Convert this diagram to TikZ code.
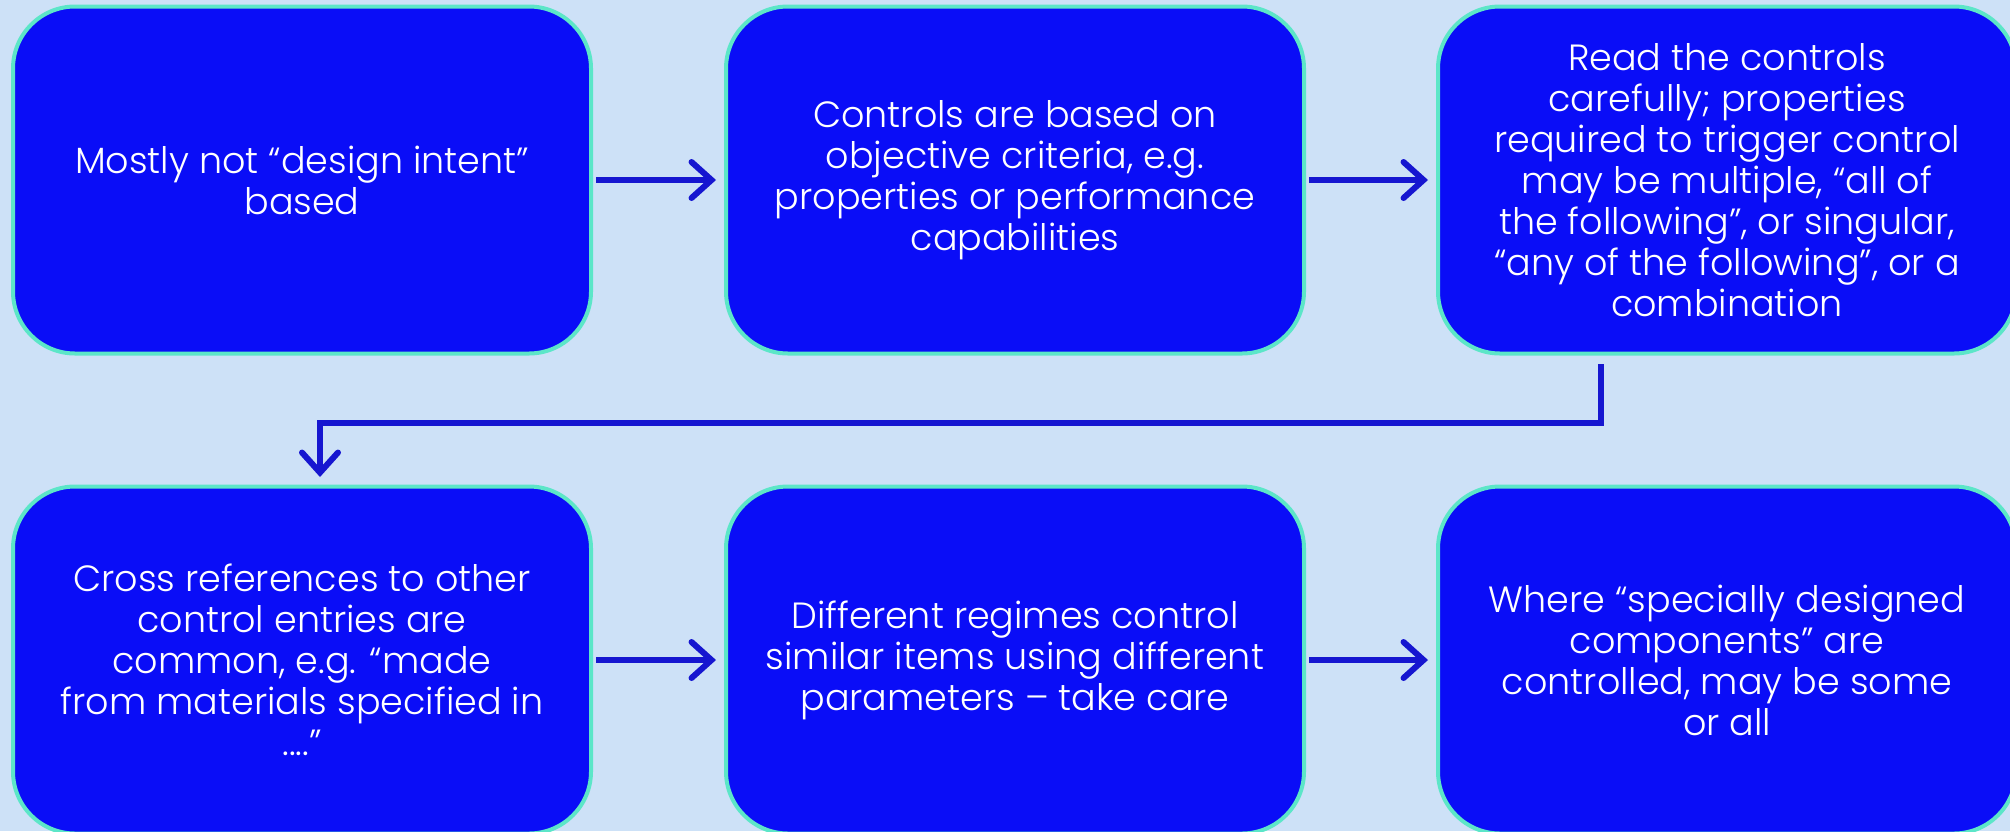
\documentclass[tikz,border=0pt]{standalone}
\usepackage{fontspec}
\setmainfont{Poppins Light}
\usetikzlibrary{arrows.meta}
\definecolor{pagebg}{HTML}{CDE1F7}
\definecolor{boxfill}{HTML}{0A0DF7}
\definecolor{boxedge}{HTML}{5CE6C8}
\definecolor{linkblue}{HTML}{1616D0}
\tikzset{
  stepbox/.style={draw=boxedge, fill=boxfill, line width=4pt, rounded corners=62pt,
    minimum width=578pt, minimum height=347pt, inner sep=0pt},
  steptext/.style={text=white, align=center, font=\fontsize{36.5}{41}\selectfont},
  link/.style={draw=linkblue, line width=6pt,
    -{Straight Barb[length=20pt, width=36pt, line width=6pt, line cap=round]}}
}
\begin{document}
\begin{tikzpicture}[x=1pt, y=-1pt]
\useasboundingbox (0,0) rectangle (2010,831);
\fill[pagebg] (0,0) rectangle (2010,831);
\clip (0,0) rectangle (2010,831);

% top row
\node[stepbox] (b1) at (302,180) {};
\node[stepbox] (b2) at (1015,180) {};
\node[stepbox] (b3) at (1727,180) {};
% bottom row
\node[stepbox] (b4) at (302,660) {};
\node[stepbox] (b5) at (1015,660) {};
\node[stepbox] (b6) at (1727,660) {};

\node[steptext] (t1) at (b1.center) {Mostly not “design intent”\\based};
\node[steptext] (t2) at (b2.center) {Controls are based on\\objective criteria, e.g.\\properties or performance\\capabilities};
\node[steptext] (t3) at (b3.center) {Read the controls\\carefully; properties\\required to trigger control\\may be multiple, “all of\\the following”, or singular,\\“any of the following”, or a\\combination};
\node[steptext] (t4) at (b4.center) {Cross references to other\\control entries are\\common, e.g. “made\\from materials specified in\\....”};
\node[steptext] (t5) at (b5.center) {Different regimes control\\similar items using different\\parameters – take care};
\node[steptext] (t6) at (b6.center) {Where “specially designed\\components” are\\controlled, may be some\\or all};

% horizontal links
\draw[link] ([xshift=3pt]b1.east) -- ([xshift=-8pt]b2.west);
\draw[link] ([xshift=3pt]b2.east) -- ([xshift=-8pt]b3.west);
\draw[link] ([xshift=3pt]b4.east) -- ([xshift=-8pt]b5.west);
\draw[link] ([xshift=3pt]b5.east) -- ([xshift=-8pt]b6.west);

% elbow link from the third step down to the fourth
\coordinate (e1) at (1601,364);
\coordinate (e2) at (320,477);
\draw[link] (e1) -- ++(0,59) -| (e2);
\end{tikzpicture}
\end{document}
